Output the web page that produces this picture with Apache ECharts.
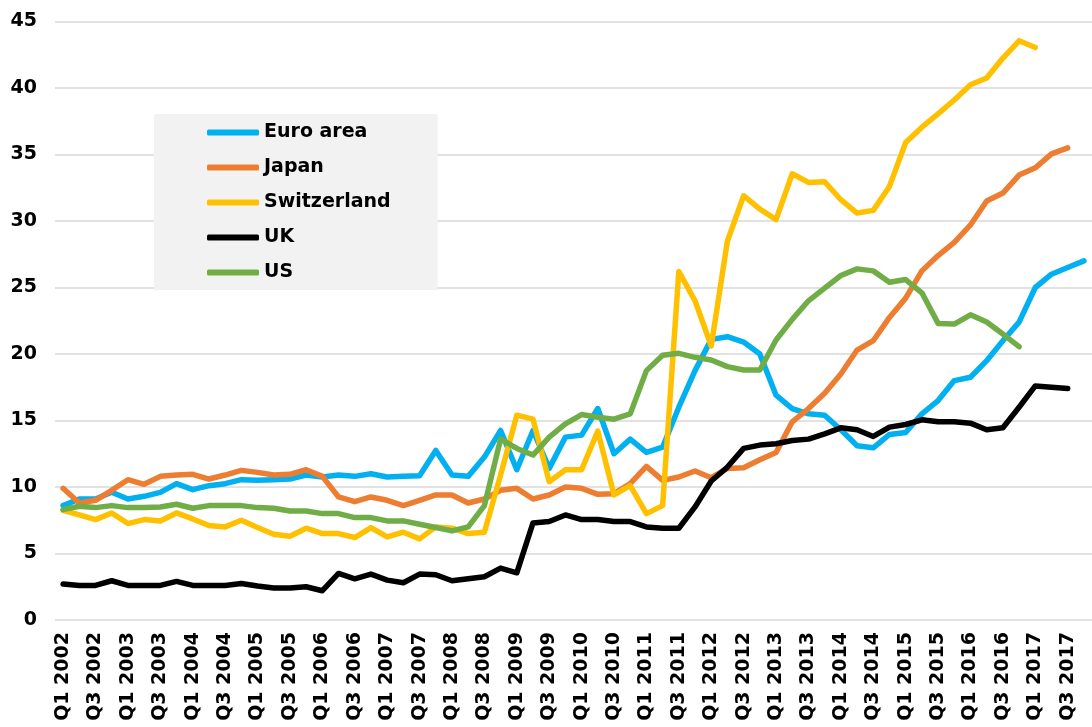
<!DOCTYPE html>
<html>
<head>
<meta charset="utf-8">
<script src="https://cdn.jsdelivr.net/npm/echarts@6/dist/echarts.min.js"></script>
<style>
  html, body { margin: 0; padding: 0; background: #fff; }
  #chart { width: 1092px; height: 727px; }
</style>
</head>
<body>
<div id="chart"></div>
<script type="text/javascript">
  // quarters Q1 2002 .. Q4 2017
  var years = [2002, 2003, 2004, 2005, 2006, 2007, 2008, 2009, 2010, 2011, 2012, 2013, 2014, 2015, 2016, 2017];
  var qNames = ['Q1', 'Q2', 'Q3', 'Q4'];
  var quarters = [];
  for (var y = 0; y < years.length; y++) {
    for (var q = 0; q < qNames.length; q++) {
      quarters.push(qNames[q] + ' ' + years[y]);
    }
  }

  var seriesNames = ['Euro area', 'Japan', 'Switzerland', 'UK', 'US'];
  var seriesColors = ['#00b0f0', '#ed7d31', '#ffc000', '#000000', '#70ad47'];

  var euroArea = [8.6, 9.1, 9.1, 9.6, 9.1, 9.3, 9.6, 10.25, 9.8, 10.1,
    10.25, 10.55, 10.5, 10.55, 10.6, 10.9, 10.75, 10.9, 10.8, 11.0,
    10.75, 10.8, 10.85, 12.75, 10.9, 10.8, 12.25, 14.25, 11.3, 14.25,
    11.4, 13.75, 13.9, 15.9, 12.5, 13.6, 12.6, 13.0, 16.0, 18.75,
    21.1, 21.3, 20.9, 20.0, 16.9, 15.9, 15.5, 15.4, 14.3, 13.1,
    12.95, 13.95, 14.1, 15.5, 16.5, 18.0, 18.25, 19.5, 21.0, 22.4,
    25.0, 26.0, 26.5, 27.0];
  var japan = [9.9, 8.8, 9.0, 9.75, 10.55, 10.2, 10.8, 10.9, 10.95, 10.6,
    10.9, 11.25, 11.1, 10.9, 10.95, 11.3, 10.8, 9.25, 8.9, 9.25,
    9.0, 8.6, 9.0, 9.4, 9.4, 8.8, 9.1, 9.75, 9.9, 9.1,
    9.4, 10.0, 9.9, 9.45, 9.5, 10.25, 11.55, 10.5, 10.75, 11.2,
    10.7, 11.4, 11.45, 12.05, 12.6, 14.9, 15.9, 17.05, 18.5, 20.3,
    21.0, 22.75, 24.2, 26.25, 27.4, 28.4, 29.7, 31.5, 32.1, 33.45,
    34.0, 35.05, 35.5];
  var switzerland = [8.25, 7.9, 7.55, 8.05, 7.25, 7.55, 7.45, 8.05, 7.6, 7.1,
    7.0, 7.5, 6.95, 6.45, 6.3, 6.9, 6.5, 6.5, 6.2, 6.95,
    6.25, 6.6, 6.1, 7.0, 6.9, 6.5, 6.6, 10.9, 15.4, 15.1,
    10.4, 11.3, 11.3, 14.2, 9.4, 10.1, 8.0, 8.6, 26.2, 24.0,
    20.6, 28.5, 31.9, 30.9, 30.1, 33.55, 32.9, 32.95, 31.6, 30.6,
    30.8, 32.6, 35.9, 37.05, 38.05, 39.1, 40.25, 40.75, 42.25, 43.55,
    43.05];
  var uk = [2.7, 2.6, 2.6, 2.95, 2.6, 2.6, 2.6, 2.9, 2.6, 2.6,
    2.6, 2.75, 2.55, 2.4, 2.4, 2.5, 2.2, 3.5, 3.1, 3.45,
    3.0, 2.8, 3.45, 3.4, 2.95, 3.1, 3.25, 3.9, 3.55, 7.3,
    7.4, 7.9, 7.55, 7.55, 7.4, 7.4, 7.0, 6.9, 6.9, 8.5,
    10.45, 11.5, 12.9, 13.15, 13.25, 13.5, 13.6, 14.0, 14.45, 14.3,
    13.8, 14.5, 14.7, 15.05, 14.9, 14.9, 14.8, 14.3, 14.45, 16.0,
    17.6, 17.5, 17.4];
  var us = [8.3, 8.55, 8.45, 8.6, 8.45, 8.45, 8.5, 8.7, 8.4, 8.6,
    8.6, 8.6, 8.45, 8.4, 8.2, 8.2, 8.0, 8.0, 7.7, 7.7,
    7.45, 7.45, 7.2, 6.95, 6.7, 7.0, 8.6, 13.6, 12.9, 12.4,
    13.75, 14.75, 15.45, 15.25, 15.1, 15.5, 18.75, 19.9, 20.05, 19.75,
    19.55, 19.05, 18.8, 18.8, 21.05, 22.6, 24.0, 24.95, 25.9, 26.4,
    26.25, 25.4, 25.6, 24.6, 22.3, 22.25, 22.95, 22.4, 21.5, 20.55];

  var seriesData = [euroArea, japan, switzerland, uk, us];
  var yTicks = { min: 0, max: 45, step: 5 };

  var font = 'DejaVu Sans';
  var dom = document.getElementById('chart');
  var myChart = echarts.init(dom);

  var series = [];
  for (var i = 0; i < seriesNames.length; i++) {
    series.push({
      name: seriesNames[i],
      type: 'line',
      symbol: 'none',
      data: seriesData[i],
      itemStyle: { color: seriesColors[i] },
      lineStyle: { color: seriesColors[i], width: 5.5, cap: 'round', join: 'round' }
    });
  }

  myChart.setOption({
    animation: false,
    grid: { left: 55, top: 21.5, width: 1043, height: 598.5 },
    legend: {
      orient: 'vertical',
      left: 154,
      top: 114,
      padding: [9, 47, 8, 53],
      backgroundColor: '#f2f2f2',
      icon: 'roundRect',
      itemWidth: 52,
      itemHeight: 6,
      itemGap: 16,
      textStyle: { fontFamily: font, fontWeight: 'bold', fontSize: 19, color: '#000' },
      data: seriesNames
    },
    xAxis: {
      type: 'category',
      data: quarters,
      boundaryGap: true,
      axisLine: { show: false },
      axisTick: { show: false },
      axisLabel: {
        interval: 1,
        rotate: 90,
        margin: 12,
        fontFamily: font,
        fontWeight: 'bold',
        fontSize: 19,
        color: '#000'
      }
    },
    yAxis: {
      type: 'value',
      min: yTicks.min,
      max: yTicks.max,
      interval: yTicks.step,
      axisLine: { show: false },
      axisTick: { show: false },
      axisLabel: { margin: 18, fontFamily: font, fontWeight: 'bold', fontSize: 19, color: '#000' },
      splitLine: { lineStyle: { color: '#d9d9d9', width: 1.5 } }
    },
    series: series
  });
</script>
</body>
</html>
